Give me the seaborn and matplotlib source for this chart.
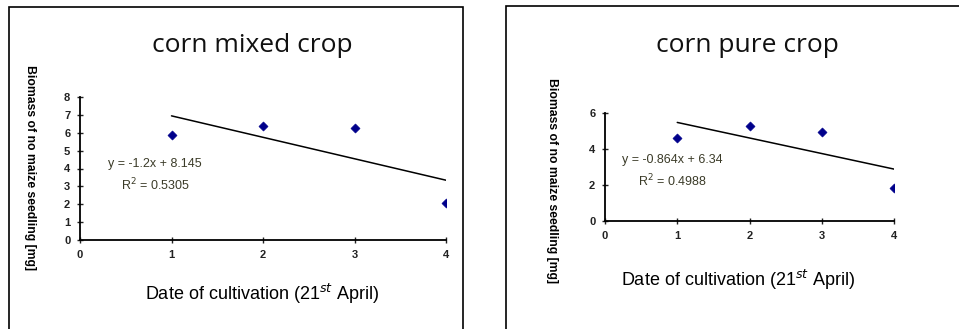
import matplotlib
matplotlib.use('Agg')
import matplotlib.pyplot as plt
import seaborn as sns
import pandas as pd
import numpy as np
from matplotlib.patches import Rectangle

# data
days = [1, 2, 3, 4]
mixed_biomass = [5.9, 6.4, 6.25, 2.05]
pure_biomass = [4.6, 5.3, 4.95, 1.85]

# trendline coefficients as printed on the chart
mixed_slope, mixed_icpt = -1.2, 8.145
pure_slope, pure_icpt = -0.864, 6.34
mixed_eq = 'y = -1.2x + 8.145\nR$^2$ = 0.5305'
pure_eq = 'y = -0.864x + 6.34\nR$^2$ = 0.4988'

titles = ['corn mixed crop', 'corn pure crop']
xlab = 'Date of cultivation (21$^{st}$ April)'
ylab = 'Biomass of no maize seedling [mg]'

sns.set_style('white')
plt.rcParams['font.family'] = ['Liberation Sans', 'DejaVu Sans']

W, H = 959, 329
fig = plt.figure(figsize=(W / 100, H / 100), dpi=100)

# chart borders
fig.patches.append(Rectangle((9 / W, -0.01), 454 / W, 322 / H + 0.01,
                             transform=fig.transFigure, fill=False,
                             edgecolor='black', linewidth=1.2))
fig.patches.append(Rectangle((506 / W, -0.01), 460 / W, 323 / H + 0.01,
                             transform=fig.transFigure, fill=False,
                             edgecolor='black', linewidth=1.2))

panels = [
    dict(rect=[80 / W, 89 / H, 366 / W, 143 / H], y=mixed_biomass,
         slope=mixed_slope, icpt=mixed_icpt, eq=mixed_eq, ymax=8, ystep=1,
         title=titles[0], title_xy=(252, 45), xl_xy=(262, 294),
         yl_xy=(30, 168), eq_xy=(155, 176)),
    dict(rect=[605 / W, 108 / H, 289 / W, 108 / H], y=pure_biomass,
         slope=pure_slope, icpt=pure_icpt, eq=pure_eq, ymax=6, ystep=2,
         title=titles[1], title_xy=(747, 45), xl_xy=(738, 280),
         yl_xy=(552, 181), eq_xy=(672, 172)),
]

for p in panels:
    ax = fig.add_axes(p['rect'])
    df = pd.DataFrame({'day': days, 'biomass': p['y']})
    xs = np.array([days[0], days[-1]])
    fit = pd.DataFrame({'day': xs, 'biomass': p['slope'] * xs + p['icpt']})
    sns.lineplot(data=fit, x='day', y='biomass', ax=ax, color='black',
                 linewidth=1.1)
    sns.scatterplot(data=df, x='day', y='biomass', ax=ax, marker='D',
                    color='#00008b', s=22, edgecolor='#00008b', zorder=3)
    ax.set_xlim(0, 4)
    ax.set_ylim(0, p['ymax'])
    ax.set_xticks(range(0, 5))
    ax.set_yticks(np.arange(0, p['ymax'] + 1, p['ystep']))
    ax.set_xlabel('')
    ax.set_ylabel('')
    ax.patch.set_alpha(0)
    for s in ['top', 'right']:
        ax.spines[s].set_visible(False)
    for s in ['left', 'bottom']:
        ax.spines[s].set_linewidth(1.3)
        ax.spines[s].set_color('black')
    ax.tick_params(axis='both', direction='inout', length=4, width=1,
                   labelsize=8, colors='#222222', pad=5, left=True, bottom=True)
    for lab in ax.get_xticklabels() + ax.get_yticklabels():
        lab.set_fontweight('bold')

    tx, ty = p['title_xy']
    fig.text(tx / W, 1 - ty / H, p['title'], ha='center', va='center',
             fontsize=19, family=['Open Sans', 'DejaVu Sans'], color='#111111')
    lx, ly = p['xl_xy']
    fig.text(lx / W, 1 - ly / H, xlab, ha='center', va='center', fontsize=13,
             color='black')
    yx, yy = p['yl_xy']
    fig.text(yx / W, 1 - yy / H, ylab, ha='center', va='center', fontsize=8.8,
             rotation=-90, fontweight='bold', color='black')
    ex, ey = p['eq_xy']
    fig.text(ex / W, 1 - ey / H, p['eq'], ha='center', va='center',
             fontsize=9, color='#3b3b28', linespacing=1.5)

fig.savefig('out.png', dpi=100)
